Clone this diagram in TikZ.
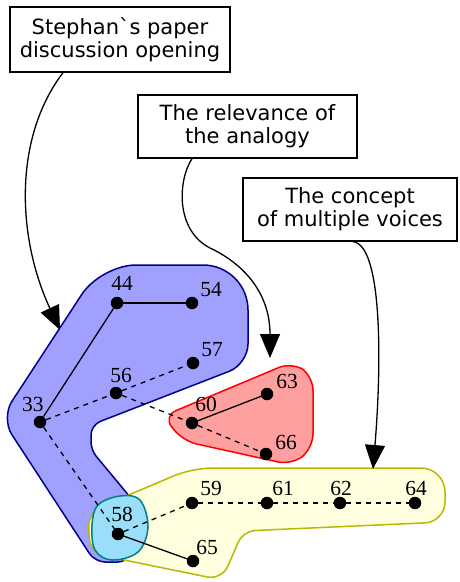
\documentclass[tikz,border=0pt]{standalone}
\usepackage{fontspec}
\newfontfamily\boxfont{DejaVu Sans}
\newfontfamily\lblfont{Liberation Serif}
\usetikzlibrary{arrows.meta}
\definecolor{hullblue}{RGB}{160,160,255}
\definecolor{edgeblue}{RGB}{0,0,140}
\definecolor{hullred}{RGB}{255,160,160}
\definecolor{edgered}{RGB}{255,0,0}
\definecolor{hullyellow}{RGB}{255,255,224}
\definecolor{edgeyellow}{RGB}{185,185,0}
\definecolor{hullcyan}{RGB}{155,222,250}
\definecolor{edgecyan}{RGB}{0,128,128}
\begin{document}
\begin{tikzpicture}[x=1pt,y=-1pt,
  vdot/.style={circle,fill=black,inner sep=0pt,minimum size=12.5pt},
  lbl/.style={inner sep=0pt,font=\lblfont\fontsize{21.5}{21.5}\selectfont},
  solidedge/.style={line width=1.3pt},
  dashededge/.style={line width=1.3pt,dash pattern=on 5pt off 5pt},
  topic/.style={draw,line width=1.3pt,fill=white,align=center,inner sep=0pt,font=\boxfont\fontsize{21}{23}\selectfont},
  pointer/.style={line width=1.3pt,-{Triangle[length=24pt,width=20pt]}},
  hull/.style={line width=1.5pt}
]
\useasboundingbox (0,0) rectangle (459,582);

% hulls
\path[hull,fill=hullblue,draw=edgeblue] (52,340) [rounded corners=35pt] -- (101,265) [rounded corners=45pt] -- (248,265) [rounded corners=20pt] -- (248,364) [rounded corners=10pt] -- (91,425) [rounded corners=8pt] -- (91,450) [rounded corners=15pt] -- (145,515) [rounded corners=10pt] -- (128,562) [rounded corners=10pt] -- (95,562) [rounded corners=20pt] -- (1,418) -- cycle;

\path[hull,fill=hullyellow,draw=edgeyellow] (150,486) [rounded corners=20pt] -- (192,468) [rounded corners=24pt] -- (445,468) [rounded corners=20pt] -- (445,522) [rounded corners=12pt] -- (243,531) [rounded corners=15pt] -- (222,580) [rounded corners=15pt] -- (90,553) [rounded corners=15pt] -- (88,512) -- cycle;

\path[hull,fill=hullred,draw=edgered,rounded corners=14pt] (230,388) -- (292,362) -- (313,376) -- (313,448) -- (292,465) -- (183,441) -- (163,416) -- cycle;

\path[hull,fill=hullcyan,draw=edgecyan] plot[smooth cycle,tension=0.6] coordinates {(92,525) (98,505) (120,496) (140,500) (148,527) (138,552) (112,560) (95,550)};

% dots
\node[vdot] (n44) at (117,303) {};
\node[vdot] (n54) at (192,303) {};
\node[vdot] (n57) at (193,363) {};
\node[vdot] (n56) at (116,393) {};
\node[vdot] (n33) at (40,422) {};
\node[vdot] (n60) at (192,423) {};
\node[vdot] (n63) at (267,394) {};
\node[vdot] (n66) at (266,454) {};
\node[vdot] (n58) at (118,534) {};
\node[vdot] (n59) at (192,503) {};
\node[vdot] (n61) at (267,503) {};
\node[vdot] (n62) at (340,503) {};
\node[vdot] (n64) at (415,503) {};
\node[vdot] (n65) at (193,561) {};

% edges
\draw[solidedge] (n33) -- (n44);
\draw[solidedge] (n44) -- (n54);
\draw[solidedge] (n60) -- (n63);
\draw[solidedge] (n58) -- (n65);
\draw[dashededge] (n33) -- (n56);
\draw[dashededge] (n56) -- (n57);
\draw[dashededge] (n56) -- (n60);
\draw[dashededge] (n60) -- (n66);
\draw[dashededge] (n33) -- (n58);
\draw[dashededge] (n58) -- (n59);
\draw[dashededge] (n59) -- (n61);
\draw[dashededge] (n61) -- (n62);
\draw[dashededge] (n62) -- (n64);

% labels
\node[lbl] (l44) at (122,283) {44};
\node[lbl] (l54) at (211,290) {54};
\node[lbl] (l57) at (212,350) {57};
\node[lbl] (l56) at (121,375) {56};
\node[lbl] (l33) at (33,404) {33};
\node[lbl] (l60) at (206,404) {60};
\node[lbl] (l63) at (287,381) {63};
\node[lbl] (l66) at (286,442) {66};
\node[lbl] (l58) at (122,514) {58};
\node[lbl] (l59) at (211,488) {59};
\node[lbl] (l61) at (283,488) {61};
\node[lbl] (l62) at (341,488) {62};
\node[lbl] (l64) at (416,488) {64};
\node[lbl] (l65) at (207,547) {65};

% topic boxes
\node[topic,minimum width=220pt,minimum height=65pt] (b1) at (120,39.5) {Stephan\symbol{96}s paper\\discussion opening};
\node[topic,minimum width=219pt,minimum height=63pt] (b2) at (247.5,126.5) {The relevance of\\the analogy};
\node[topic,minimum width=214pt,minimum height=63pt] (b3) at (350,209.5) {The concept\\of multiple voices};

% pointers
\coordinate (t1) at (60,330);
\coordinate (t2) at (270,358);
\coordinate (t3) at (373,469);
\coordinate (k2) at (210,248);
\draw[pointer] ([xshift=-57pt]b1.south) .. controls (12,140) and (18,240) .. (t1);
\draw[pointer] ([xshift=-55.5pt]b2.south) .. controls (178,180) and (175,230) .. (k2) .. controls (240,262) and (270,290) .. (t2);
\draw[pointer] ([xshift=3pt]b3.south) .. controls (382,245) and (382,360) .. (t3);
\end{tikzpicture}
\end{document}
